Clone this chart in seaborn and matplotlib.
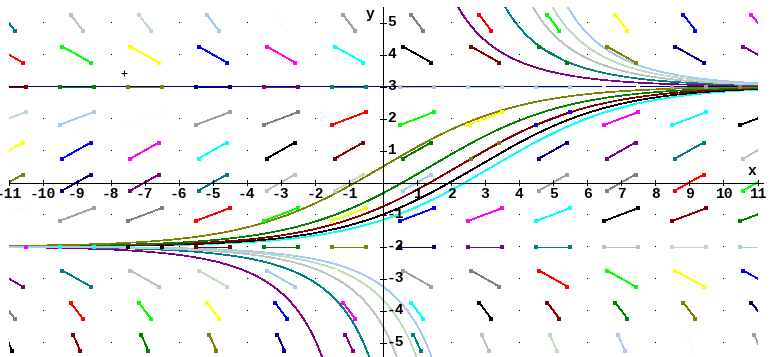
import numpy as np
import pandas as pd
import matplotlib
matplotlib.use("Agg")
import matplotlib.pyplot as plt
import seaborn as sns

# ---------------- data ----------------
# slope-field segments: centres at odd x, every integer y; slope per row
seg_x = [-11, -9, -7, -5, -3, -1, 1, 3, 5, 7, 9, 11]
row_y = [-5, -4, -3, -2, -1, 0, 1, 2, 3, 4, 5]
row_slope = [-2.4, -1.4, -0.6, 0.0, 0.4, 0.6, 0.6, 0.4, 0.0, -0.6, -1.4]
# small grid dots at even x
dot_x = [-10, -8, -6, -4, -2, 0, 2, 4, 6, 8, 10]
# solution family of y' = 0.1(3-y)(y+2):  (y-3)/(y+2) = k*exp(-x/2)
family_k = [-5, -4, -3, -2, -1, 0, 1, 2, 3, 4, 5]
x_tick_vals = list(range(-11, 12))
y_tick_vals = list(range(-5, 6))
cursor_pos = (-7.61, 3.41)

palette19 = ['#000000', '#800000', '#008000', '#808000', '#000080', '#800080',
             '#008080', '#C0C0C0', '#C0DCC0', '#A6CAF0', '#FFFBF0', '#A0A0A4',
             '#808080', '#FF0000', '#00FF00', '#FFFF00', '#0000FF', '#FF00FF',
             '#00FFFF']

# ---------------- figure ----------------
W, H = 771, 357
sns.set_style("white")
fig = plt.figure(figsize=(W / 100, H / 100), dpi=100)
# x=-11 at px 8.5, x=11 at px 757.5 ; y=5.5 at px 6.5, y=-5.5 at px 358.5
ax = fig.add_axes([8.5 / W, (H - 358.5) / H, 749 / W, 352 / H])
ax.set_xlim(-11, 11)
ax.set_ylim(-5.5, 5.5)
ax.axis('off')

FONT = dict(family='Liberation Mono', weight='bold', size=10.5)
LW = 0.5

# axes
ax.plot([-11, 11.15], [0, 0], color='black', lw=LW, antialiased=False,
        clip_on=False, zorder=4)
ax.plot([0, 0], [-5.5, 5.5], color='black', lw=LW, antialiased=False,
        clip_on=False, zorder=4)
for t in x_tick_vals:
    ax.plot([t, t], [-0.065, 0.065], color='black', lw=LW, antialiased=False,
            clip_on=False, zorder=4)
    if t != 0:
        ax.text(t, -0.37, str(t), ha='center', va='center', color='black',
                zorder=5, **FONT)
for t in y_tick_vals:
    ax.plot([-0.075, 0.075], [t, t], color='black', lw=LW, antialiased=False,
            clip_on=False, zorder=4)
    if t != 0:
        ax.text(0.12, t, str(t), ha='left', va='center', color='black',
                zorder=5, **FONT)
ax.text(10.83, 0.36, 'x', ha='center', va='center', color='black', zorder=5, **FONT)
ax.text(-0.38, 5.27, 'y', ha='center', va='center', color='black', zorder=5, **FONT)

# grid dots
for dx in dot_x:
    ax.plot([dx] * len(row_y), row_y, linestyle='none', marker=',',
            color='black', zorder=1)

# slope segments (lines under curves, end squares on top)
for r, (yc, m) in enumerate(zip(row_y, row_slope)):
    for c, xc in enumerate(seg_x):
        col = palette19[(12 * r + c) % 19]
        t = 0.5 if m == 0 else min(0.5, 0.25 / abs(m))
        xs_ = [xc - t, xc + t]
        ys_ = [yc - m * t, yc + m * t]
        ax.plot(xs_, ys_, color=col, lw=LW, antialiased=False, zorder=1)
        ax.plot(xs_, ys_, linestyle='none', marker='s', markersize=2.3,
                markeredgewidth=0, color=col, zorder=3)

# solution curves
xs = np.linspace(-11, 11, 6001)
for k in family_k:
    col = palette19[(4 + k) % 19]
    with np.errstate(divide='ignore', invalid='ignore'):
        e = k * np.exp(-xs / 2)
        y = (3 + 2 * e) / (1 - e)
    if k > 0:
        xsing = 2 * np.log(k)
        branches = [xs < xsing, xs > xsing]
    else:
        branches = [np.ones_like(xs, dtype=bool)]
    for b in branches:
        ok = b & np.isfinite(y) & (np.abs(y) < 60)
        if ok.sum() < 2:
            continue
        df = pd.DataFrame({'x': xs[ok], 'y': y[ok]})
        sns.lineplot(data=df, x='x', y='y', ax=ax, color=col, lw=LW,
                     estimator=None, sort=False, antialiased=False, zorder=2)
ax.set_xlim(-11, 11)
ax.set_ylim(-5.5, 5.5)
ax.axis('off')

# cursor cross
ax.plot([cursor_pos[0]], [cursor_pos[1]], marker='+', markersize=5,
        markeredgewidth=0.75, color='black', linestyle='none',
        antialiased=False, zorder=5)

fig.savefig('out.png', dpi=100, facecolor='white')
